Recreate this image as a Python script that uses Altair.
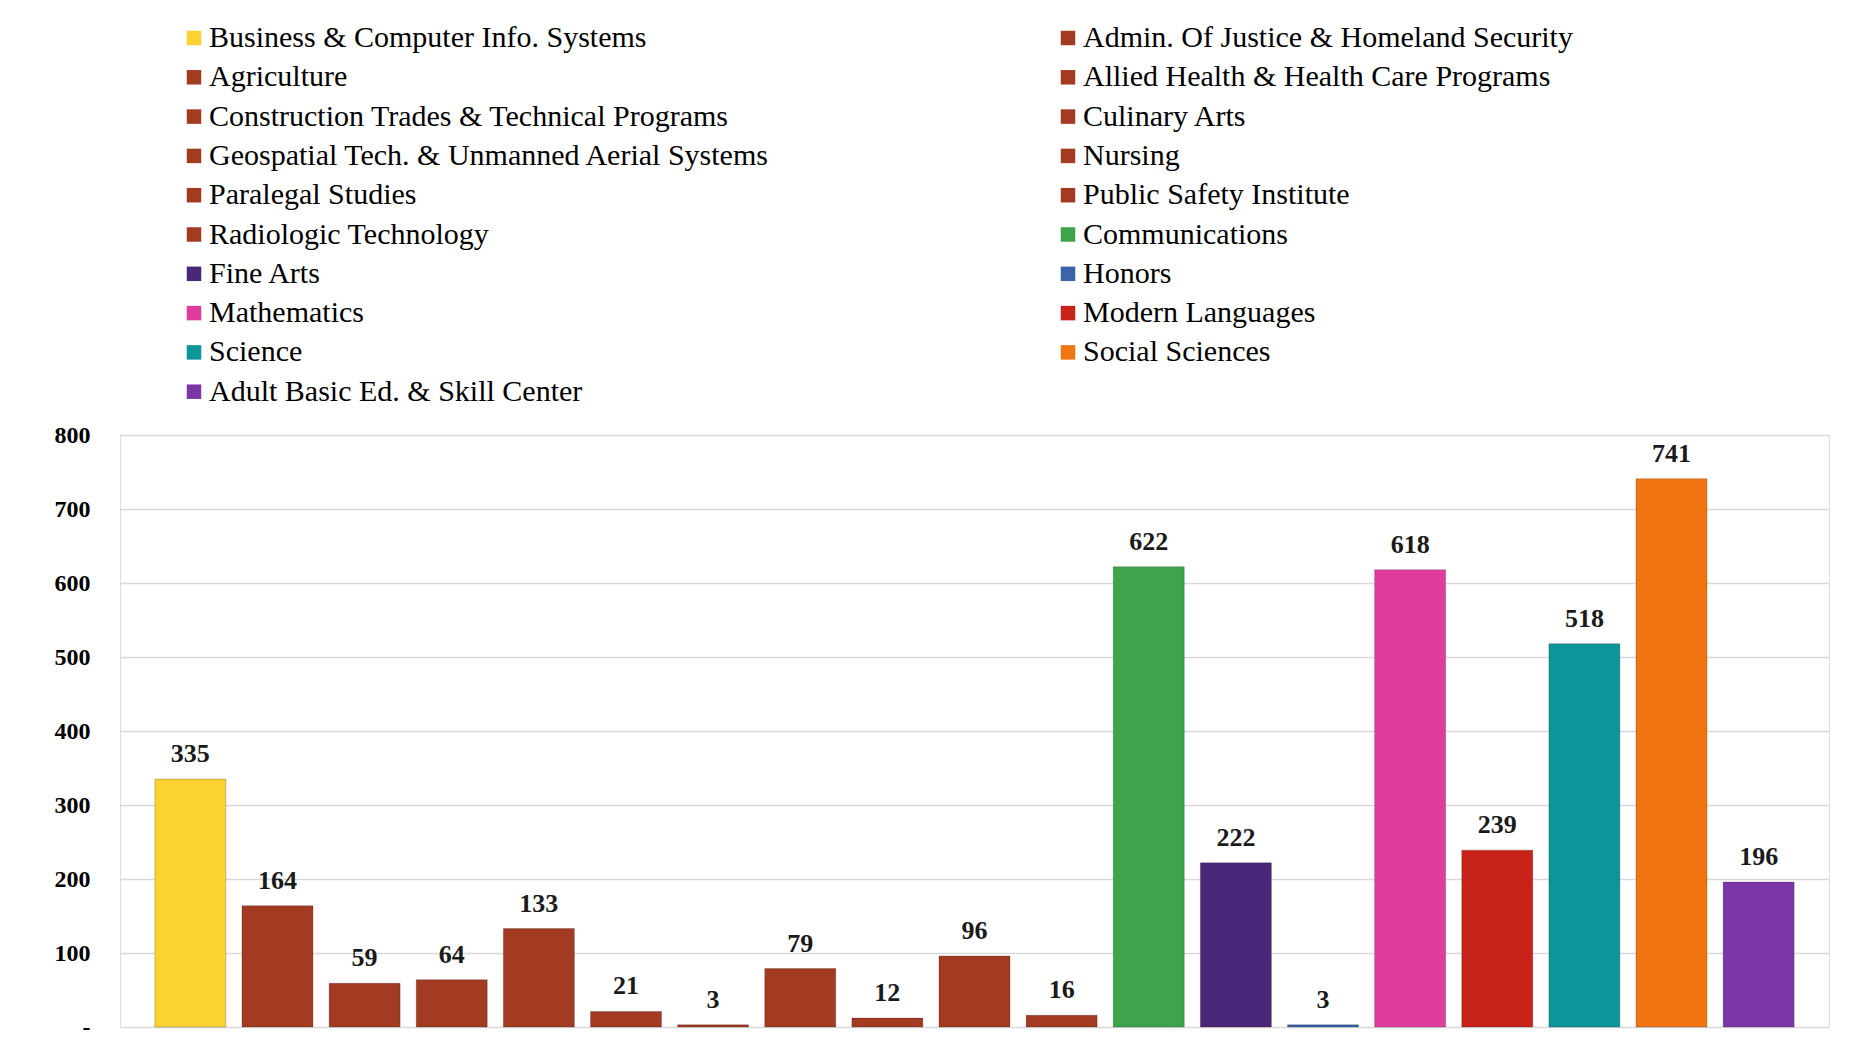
import altair as alt
import pandas as pd

categories = [
    "Business & Computer Info. Systems",
    "Admin. Of Justice & Homeland Security",
    "Agriculture",
    "Allied Health & Health Care Programs",
    "Construction Trades & Technical Programs",
    "Culinary Arts",
    "Geospatial Tech. & Unmanned Aerial Systems",
    "Nursing",
    "Paralegal Studies",
    "Public Safety Institute",
    "Radiologic Technology",
    "Communications",
    "Fine Arts",
    "Honors",
    "Mathematics",
    "Modern Languages",
    "Science",
    "Social Sciences",
    "Adult Basic Ed. & Skill Center",
]
values = [335, 164, 59, 64, 133, 21, 3, 79, 12, 96, 16, 622, 222, 3, 618, 239, 518, 741, 196]
colors = [
    "#FAD232", "#A33A22", "#A33A22", "#A33A22", "#A33A22", "#A33A22",
    "#A33A22", "#A33A22", "#A33A22", "#A33A22", "#A33A22",
    "#3FA34B", "#4A2879", "#3B64AA", "#E03C9E", "#C8231A",
    "#0E9599", "#F07410", "#7A37A5",
]
y_ticks = [0, 100, 200, 300, 400, 500, 600, 700, 800]

df = pd.DataFrame({"category": categories, "value": values})

# legend is filled column by column: reorder so that it reads row by row
order = list(range(0, len(categories), 2)) + list(range(1, len(categories), 2))
legend_domain = [categories[i] for i in order]
legend_range = [colors[i] for i in order]

x = alt.X("category:N", sort=categories, axis=None,
          scale=alt.Scale(paddingInner=0.185, paddingOuter=0.4))
y = alt.Y("value:Q", scale=alt.Scale(domain=[0, 800], nice=False),
          axis=alt.Axis(values=y_ticks, title=None, domain=False, ticks=False, tickSize=0,
                        labelPadding=30, labelFont="Liberation Serif", labelFontSize=24,
                        labelFontWeight="bold", labelColor="#000000",
                        labelExpr="datum.value == 0 ? '-' : datum.label",
                        gridColor="#D9D9D9", gridWidth=1.5))

bars = alt.Chart(df).mark_bar(stroke="#000000", strokeOpacity=0.2, strokeWidth=1).encode(
    x=x,
    y=y,
    color=alt.Color("category:N",
                    scale=alt.Scale(domain=legend_domain, range=legend_range),
                    legend=alt.Legend(
                        title=None, orient="none", legendX=59, legendY=-412,
                        columns=2, columnPadding=282, rowPadding=9.3,
                        symbolType="square", symbolSize=210, symbolStrokeWidth=0,
                        labelFont="Liberation Serif", labelFontSize=30,
                        labelColor="#000000", labelLimit=900, labelOffset=0,
                        padding=0, symbolLimit=0,
                    )),
)

labels = alt.Chart(df).mark_text(
    font="Liberation Serif", fontSize=26, fontWeight="bold", color="#1a1a1a",
    baseline="alphabetic", dy=-17,
).encode(x=x, y=y, text="value:Q")

chart = (bars + labels).properties(
    width=1709, height=592,
    autosize=alt.AutoSizeParams(type="none"),
    padding={"left": 112, "top": 427, "right": 10, "bottom": 22},
).configure_view(stroke="#D9D9D9", strokeWidth=1.5).configure(background="white")

chart.save("out.html", embed_options={"renderer": "svg", "actions": False})
